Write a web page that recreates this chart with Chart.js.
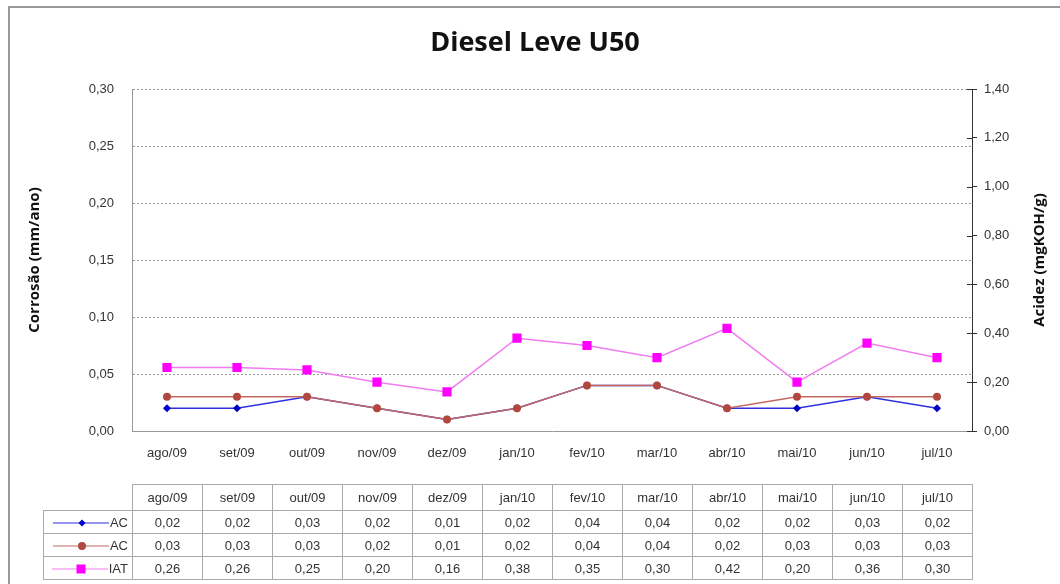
<!DOCTYPE html>
<html lang="pt">
<head>
<meta charset="UTF-8">
<title>Diesel Leve U50</title>
<script src="https://cdn.jsdelivr.net/npm/chart.js"></script>
<style>
  body { margin: 0; background: #fff; overflow: hidden; }
  #wrap { position: relative; width: 1060px; height: 584px; }
  #frame { position: absolute; left: 8px; top: 6px; right: 0; bottom: 0;
           border-left: 2px solid #999; border-top: 2px solid #999; pointer-events: none; }
  #dados { position: absolute; border-collapse: collapse; table-layout: fixed;
           font-family: "Liberation Sans", Arial, sans-serif; font-size: 13px; color: #333; }
  #dados td { border: 1px solid #aaa; text-align: center; padding: 0; height: 22px; }
  #dados tr.cab td { height: 25px; }
  #dados td.vazio { border: none; }
  #dados td.leg { text-align: right; padding-right: 4px; white-space: nowrap; }
  #dados td.leg svg { vertical-align: middle; margin-right: 1px; }
</style>
</head>
<body>
<div id="wrap">
  <canvas id="grafico" width="1060" height="584"></canvas>
  <div id="frame"></div>
</div>

<script>
// dados
const meses = ['ago/09', 'set/09', 'out/09', 'nov/09', 'dez/09', 'jan/10',
               'fev/10', 'mar/10', 'abr/10', 'mai/10', 'jun/10', 'jul/10'];
const ac1 = [0.02, 0.02, 0.03, 0.02, 0.01, 0.02, 0.04, 0.04, 0.02, 0.02, 0.03, 0.02];
const ac2 = [0.03, 0.03, 0.03, 0.02, 0.01, 0.02, 0.04, 0.04, 0.02, 0.03, 0.03, 0.03];
const iat = [0.26, 0.26, 0.25, 0.20, 0.16, 0.38, 0.35, 0.30, 0.42, 0.20, 0.36, 0.30];

const ticksCorrosao = ['0,00', '0,05', '0,10', '0,15', '0,20', '0,25', '0,30'];
const ticksAcidez = ['0,00', '0,20', '0,40', '0,60', '0,80', '1,00', '1,20', '1,40'];

const fmt = v => v.toFixed(2).replace('.', ',');
const fonteEixo = { family: '"Liberation Sans", Arial, sans-serif', size: 13 };

// titulo do eixo direito lido de baixo para cima + marcas internas do eixo
const eixoDireito = {
    id: 'eixoDireito',
    afterDraw(chart) {
        const ctx = chart.ctx;
        const s = chart.scales.y1;
        ctx.save();
        ctx.strokeStyle = '#333';
        ctx.lineWidth = 1;
        s.ticks.forEach((t, i) => {
            const y = Math.round(s.getPixelForTick(i)) + 0.5;
            ctx.beginPath();
            ctx.moveTo(s.left - 5, y);
            ctx.lineTo(s.left, y);
            ctx.stroke();
        });
        ctx.translate(s.right - 20, (s.top + s.bottom) / 2);
        ctx.rotate(-Math.PI / 2);
        ctx.font = 'bold 15px "Open Sans", sans-serif';
        ctx.fillStyle = '#111';
        ctx.textAlign = 'center';
        ctx.textBaseline = 'middle';
        ctx.fillText('Acidez (mgKOH/g)', 0, 0);
        ctx.restore();
    }
};

const ctx = document.getElementById('grafico').getContext('2d');
const chart = new Chart(ctx, {
    type: 'line',
    data: {
        labels: meses,
        datasets: [
            { label: 'AC', data: ac1, yAxisID: 'y', order: 3,
              borderColor: '#2f2fe0', backgroundColor: '#0000c8', borderWidth: 1.5,
              pointStyle: 'rectRot', pointRadius: 4, pointBorderWidth: 0 },
            { label: 'AC', data: ac2, yAxisID: 'y', order: 2,
              borderColor: '#c26a62', backgroundColor: '#b04840', borderWidth: 1.5,
              pointStyle: 'circle', pointRadius: 4, pointBorderWidth: 0 },
            { label: 'IAT', data: iat, yAxisID: 'y1', order: 1,
              borderColor: '#f07cf0', backgroundColor: '#ff00ff', borderWidth: 1.5,
              pointStyle: 'rect', pointRadius: 6.5, pointBorderWidth: 0 }
        ]
    },
    options: {
        responsive: false,
        animation: false,
        layout: { padding: { left: 10, right: 0, top: 8, bottom: 0 } },
        plugins: {
            legend: { display: false },
            tooltip: { enabled: false },
            title: {
                display: true,
                text: 'Diesel Leve U50',
                color: '#111',
                font: { family: '"Open Sans", sans-serif', size: 27, weight: 'bold' },
                padding: { top: 19, bottom: 29.6 }
            }
        },
        scales: {
            x: {
                offset: true,
                grid: { drawOnChartArea: false, drawTicks: false },
                border: { color: '#999', width: 1 },
                ticks: { color: '#333', font: fonteEixo, padding: 15, maxRotation: 0 },
                afterFit(scale) { scale.height = 153; }
            },
            y: {
                position: 'left',
                min: 0, max: 0.3,
                ticks: {
                    stepSize: 0.05, color: '#333', font: fonteEixo, padding: 18,
                    callback: (v, i) => ticksCorrosao[i]
                },
                grid: { color: '#999', drawTicks: false, lineWidth: 1 },
                border: { color: '#999', width: 1, dash: [2, 2] },
                title: {
                    display: true, text: 'Corrosão (mm/ano)', color: '#111',
                    font: { family: '"Open Sans", sans-serif', size: 15, weight: 'bold' },
                    padding: { top: 16, bottom: 0 }
                },
                afterFit(scale) { scale.width = 122; }
            },
            y1: {
                position: 'right',
                min: 0, max: 1.4,
                ticks: {
                    stepSize: 0.2, color: '#333', font: fonteEixo, padding: 7,
                    callback: (v, i) => ticksAcidez[i]
                },
                grid: { drawOnChartArea: false, drawTicks: true, tickLength: 5, color: '#333' },
                border: { color: '#333', width: 1 },
                afterFit(scale) { scale.width = 88; }
            }
        }
    },
    plugins: [eixoDireito]
});

// tabela de dados abaixo do gráfico, colunas alinhadas com o eixo x
function montarTabela() {
    const x = chart.scales.x;
    const passo = x.getPixelForValue(1) - x.getPixelForValue(0);
    const inicio = x.getPixelForValue(0) - passo / 2;
    const esq = 43;
    const tab = document.createElement('table');
    tab.id = 'dados';
    tab.style.left = esq + 'px';
    tab.style.top = '484px';

    let html = '<colgroup><col style="width:' + (inicio - esq) + 'px">';
    meses.forEach(() => { html += '<col style="width:' + passo + 'px">'; });
    html += '</colgroup><tr class="cab"><td class="vazio"></td>';
    meses.forEach(m => { html += '<td>' + m + '</td>'; });
    html += '</tr>';

    chart.data.datasets.forEach(ds => {
        const cx = 33, cy = 6;
        let marca;
        if (ds.pointStyle === 'rect') {
            marca = '<rect x="' + (cx - 4.5) + '" y="' + (cy - 4.5) + '" width="9" height="9" fill="' + ds.backgroundColor + '"/>';
        } else if (ds.pointStyle === 'circle') {
            marca = '<circle cx="' + cx + '" cy="' + cy + '" r="4" fill="' + ds.backgroundColor + '"/>';
        } else {
            marca = '<polygon points="' + cx + ',' + (cy - 3.5) + ' ' + (cx + 3.5) + ',' + cy + ' ' + cx + ',' + (cy + 3.5) + ' ' + (cx - 3.5) + ',' + cy + '" fill="' + ds.backgroundColor + '"/>';
        }
        const svg = '<svg width="60" height="12"><line x1="4" y1="6" x2="60" y2="6" stroke="' + ds.borderColor + '" stroke-width="1.2"/>' + marca + '</svg>';
        html += '<tr><td class="leg">' + svg + ds.label + '</td>';
        ds.data.forEach(v => { html += '<td>' + fmt(v) + '</td>'; });
        html += '</tr>';
    });
    tab.innerHTML = html;
    tab.style.width = (inicio - esq + passo * meses.length) + 'px';
    document.getElementById('wrap').appendChild(tab);
}
montarTabela();
</script>
</body>
</html>
